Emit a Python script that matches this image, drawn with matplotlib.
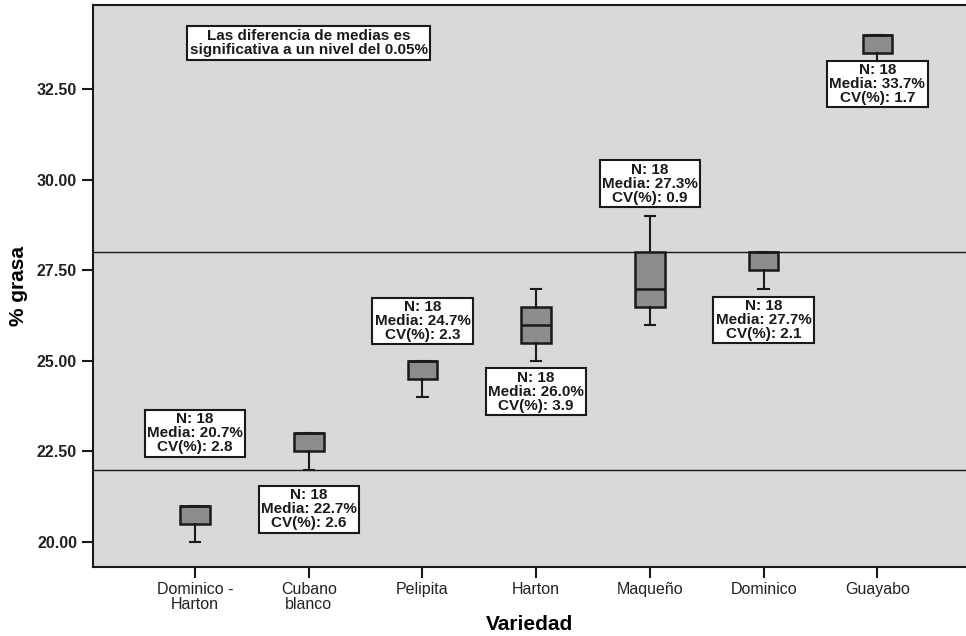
import matplotlib
matplotlib.use('Agg')
import matplotlib.pyplot as plt

variedades = ['Dominico -\nHarton', 'Cubano\nblanco', 'Pelipita', 'Harton',
              'Maqueño', 'Dominico', 'Guayabo']
whislo = [20.0, 22.0, 24.0, 25.0, 26.0, 27.0, 33.0]
q1 = [20.5, 22.5, 24.5, 25.5, 26.5, 27.5, 33.5]
med = [21.0, 23.0, 25.0, 26.0, 27.0, 28.0, 34.0]
q3 = [21.0, 23.0, 25.0, 26.5, 28.0, 28.0, 34.0]
whishi = [21.0, 23.0, 25.0, 27.0, 29.0, 28.0, 34.0]

n_obs = [18, 18, 18, 18, 18, 18, 18]
medias = [20.7, 22.7, 24.7, 26.0, 27.3, 27.7, 33.7]
cvs = [2.8, 2.6, 2.3, 3.9, 0.9, 2.1, 1.7]
label_y = [23.0, 20.9, 26.1, 24.15, 29.9, 26.13, 32.65]

ref_lines = [22.0, 28.0]
yticks = [20.0, 22.5, 25.0, 27.5, 30.0, 32.5]

plt.rcParams['font.family'] = ['Liberation Sans', 'DejaVu Sans']

fig = plt.figure(figsize=(9.66, 6.36), dpi=100)
ax = fig.add_axes([0.0963, 0.1085, 0.9037, 0.8835])
ax.set_facecolor('#d9d9d9')

stats = []
for i in range(len(variedades)):
    stats.append(dict(whislo=whislo[i], q1=q1[i], med=med[i], q3=q3[i],
                      whishi=whishi[i], fliers=[]))

pos = list(range(len(variedades)))
ax.bxp(stats, positions=pos, widths=0.26, patch_artist=True,
       capwidths=0.09,
       boxprops=dict(facecolor='#8c8c8c', edgecolor='#1a1a1a', linewidth=1.8),
       medianprops=dict(color='#1a1a1a', linewidth=1.8),
       whiskerprops=dict(color='#1a1a1a', linewidth=1.5),
       capprops=dict(color='#1a1a1a', linewidth=1.5),
       zorder=3)

for y in ref_lines:
    ax.axhline(y, color='#1a1a1a', linewidth=1.0, zorder=2)

box_style = dict(boxstyle='square,pad=0.15', facecolor='white',
                 edgecolor='#1a1a1a', linewidth=1.5)
for i in range(len(variedades)):
    txt = 'N: %d\nMedia: %.1f%%\nCV(%%): %.1f' % (n_obs[i], medias[i], cvs[i])
    ax.text(pos[i], label_y[i], txt, ha='center', va='center',
            fontsize=11, fontweight='bold', color='#1a1a1a',
            linespacing=1.0, bbox=box_style, zorder=5)

ax.text(1, 33.78, 'Las diferencia de medias es\nsignificativa a un nivel del 0.05%',
        ha='center', va='center', fontsize=11, fontweight='bold',
        color='#1a1a1a', linespacing=1.0,
        bbox=dict(boxstyle='square,pad=0.18', facecolor='white',
                  edgecolor='#1a1a1a', linewidth=1.5), zorder=5)

ax.set_xlim(-0.897, 6.78)
ax.set_ylim(19.31, 34.83)
ax.set_xticks(pos)
ax.set_xticklabels(variedades, fontsize=11.5, color='#222222', linespacing=1.0)
ax.set_yticks(yticks)
ax.set_yticklabels(['%.2f' % v for v in yticks], fontsize=11.5,
                   fontweight='bold', color='#222222')
ax.tick_params(axis='both', length=8, width=1.5, color='#1a1a1a')
ax.tick_params(axis='x', pad=3)

ax.spines['right'].set_visible(False)
for s in ['left', 'top', 'bottom']:
    ax.spines[s].set_linewidth(1.5)
    ax.spines[s].set_color('#1a1a1a')

ax.set_xlabel('Variedad', fontsize=15, fontweight='bold', labelpad=2)
ax.set_ylabel('% grasa', fontsize=15, fontweight='bold', labelpad=6)

fig.savefig('out.png', dpi=100, facecolor='white')
